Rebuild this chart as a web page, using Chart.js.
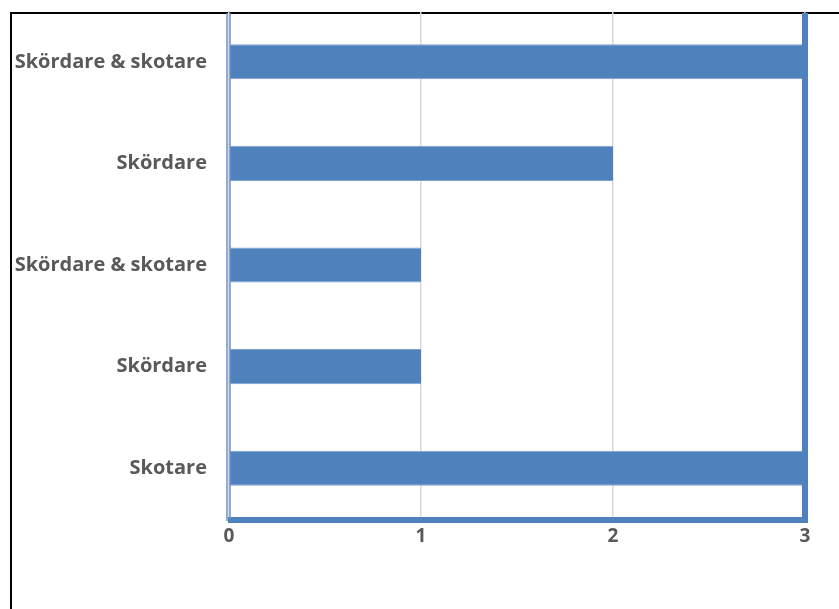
<!DOCTYPE html>
<html lang="sv">
<head>
    <meta charset="UTF-8">
    <title>Skördare och skotare</title>
    <style>
        html, body { margin: 0; padding: 0; background: #ffffff; }
        #wrap { width: 839px; height: 609px; position: relative; }
    </style>
</head>
<body>
    <div id="wrap"><canvas id="myChart"></canvas></div>

    <script src="https://cdn.jsdelivr.net/npm/chart.js"></script>
    <script>
        // Data (top to bottom)
        const categories = ['Skördare & skotare', 'Skördare', 'Skördare & skotare', 'Skördare', 'Skotare'];
        const counts = [3, 2, 1, 1, 3];
        const xTicks = [0, 1, 2, 3];

        const labelColor = '#595959';
        const barColor = '#4f81bd';

        // outer black frame and the blue plot frame
        const framePlugin = {
            id: 'frames',
            beforeDraw(chart) {
                const c = chart.ctx;
                c.save();
                c.strokeStyle = '#000000';
                c.lineWidth = 2;
                c.beginPath();
                c.moveTo(11, 609);
                c.lineTo(11, 13);
                c.lineTo(839, 13);
                c.stroke();
                c.restore();
            },
            afterDraw(chart) {
                const a = chart.chartArea;
                const c = chart.ctx;
                c.save();
                c.strokeStyle = barColor;
                c.lineWidth = 6;
                c.beginPath();
                c.moveTo(a.left - 1, a.bottom + 1);
                c.lineTo(a.right, a.bottom + 1);
                c.lineTo(a.right, a.top + 2);
                c.stroke();
                c.lineWidth = 1.5;
                c.strokeStyle = '#6f93c8';
                c.beginPath();
                c.moveTo(a.left - 2, a.top + 2);
                c.lineTo(a.left - 2, a.bottom + 2);
                c.moveTo(a.left + 1, a.top + 2);
                c.lineTo(a.left + 1, a.bottom);
                c.stroke();
                c.restore();
            }
        };

        const ctx = document.getElementById('myChart').getContext('2d');
        new Chart(ctx, {
            type: 'bar',
            data: {
                labels: categories,
                datasets: [{
                    data: counts,
                    backgroundColor: barColor,
                    borderColor: '#7f9fcf',
                    borderWidth: { top: 1, bottom: 1, left: 0, right: 0 },
                    borderSkipped: false,
                    categoryPercentage: 1,
                    barPercentage: 0.345
                }]
            },
            options: {
                indexAxis: 'y',
                responsive: true,
                maintainAspectRatio: false,
                animation: false,
                layout: { padding: { top: 11, right: 34, left: 0, bottom: 0 } },
                plugins: {
                    legend: { display: false },
                    tooltip: { enabled: false }
                },
                scales: {
                    x: {
                        min: 0,
                        max: 3,
                        afterBuildTicks: scale => { scale.ticks = xTicks.map(v => ({ value: v })); },
                        afterFit: scale => {
                            scale.height = 90;
                            scale.paddingLeft = 0;
                            scale.paddingRight = 0;
                        },
                        grid: { color: '#d9d9d9', lineWidth: 1.5, drawTicks: false },
                        border: { display: false },
                        ticks: {
                            padding: 6,
                            color: labelColor,
                            font: { family: 'Open Sans', size: 19, weight: 'bold' }
                        }
                    },
                    y: {
                        afterFit: scale => {
                            scale.width = 229;
                            scale.paddingTop = 0;
                            scale.paddingBottom = 0;
                        },
                        grid: { display: false, drawTicks: false },
                        border: { display: false },
                        ticks: {
                            padding: 22,
                            color: labelColor,
                            font: { family: 'Open Sans', size: 20, weight: 'bold' }
                        }
                    }
                }
            },
            plugins: [framePlugin]
        });
    </script>
</body>
</html>
